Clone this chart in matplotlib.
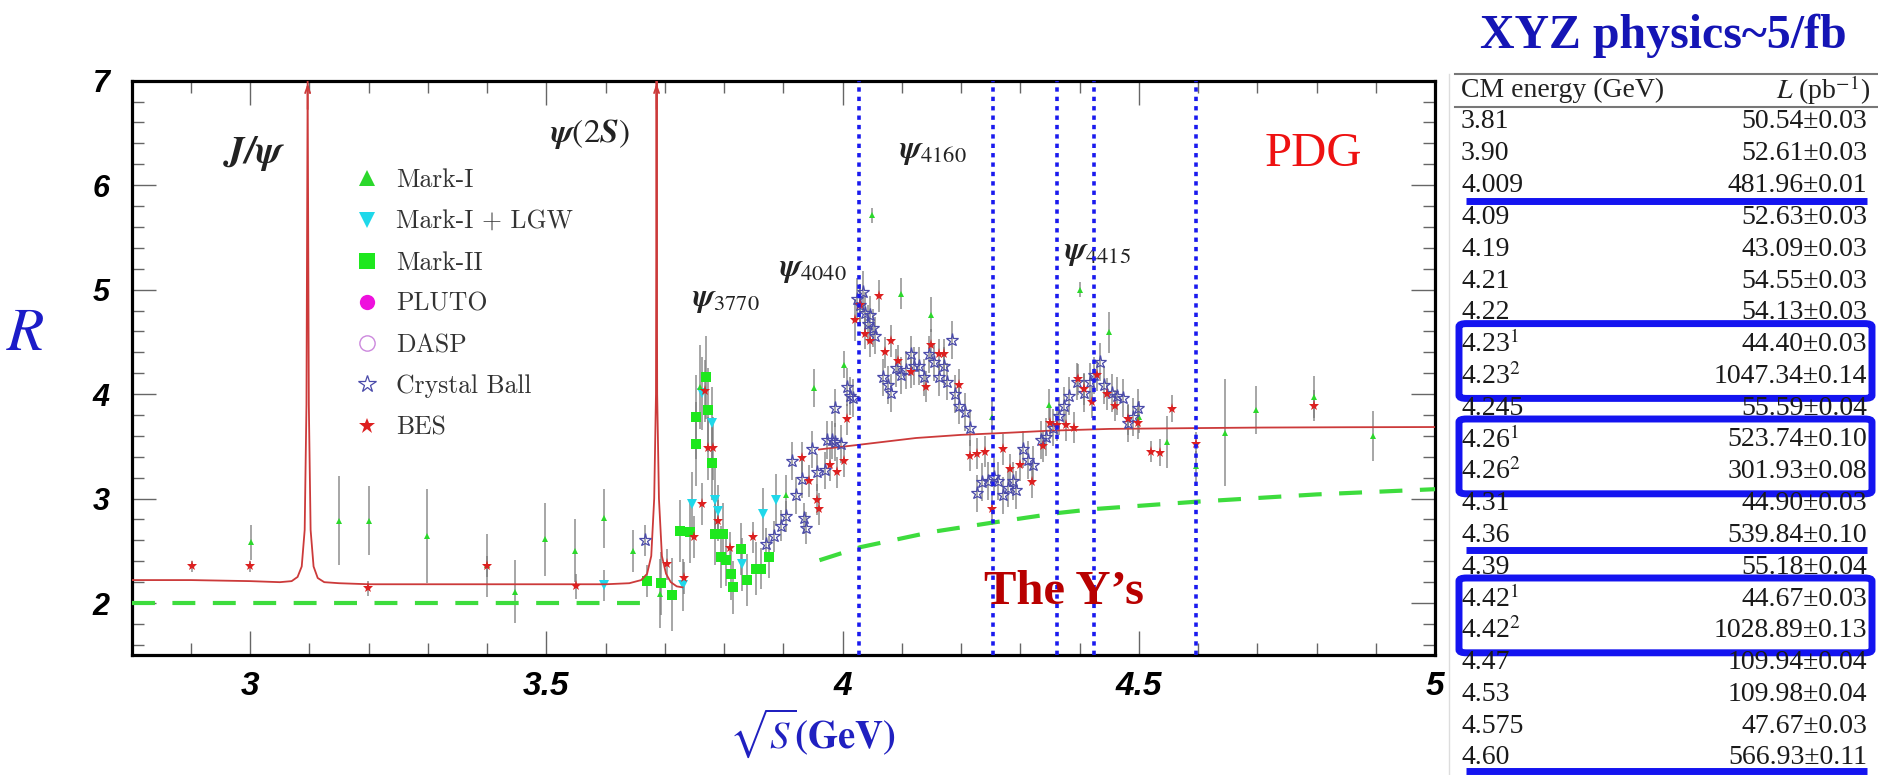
import matplotlib
matplotlib.use("Agg")
import matplotlib.pyplot as plt
from matplotlib.lines import Line2D
from matplotlib.patches import FancyBboxPatch
from matplotlib.ticker import MultipleLocator

plt.rcParams['mathtext.fontset'] = 'stix'

# ---- R measurements: (sqrt(s) [GeV], R, error) ----
mark1 = [(3.001, 2.58, 0.17), (3.150, 2.79, 0.43), (3.200, 2.79, 0.33), (3.299, 2.64, 0.45),
         (3.399, 2.36, 0.30), (3.447, 2.11, 0.30), (3.498, 2.61, 0.35), (3.549, 2.50, 0.30),
         (3.598, 2.81, 0.28), (3.647, 2.50, 0.20), (3.691, 2.09, 0.33), (3.759, 4.07, 0.40),
         (3.905, 3.03, 0.20), (3.952, 4.06, 0.18), (4.002, 4.28, 0.13), (4.049, 5.71, 0.07),
         (4.098, 4.96, 0.15), (4.150, 4.76, 0.17), (4.252, 3.78, 0.15), (4.348, 3.90, 0.15),
         (4.400, 5.00, 0.07), (4.449, 4.59, 0.20), (4.501, 3.78, 0.15), (4.547, 3.54, 0.25),
         (4.596, 3.31, 0.15), (4.646, 3.63, 0.51), (4.697, 3.85, 0.23), (4.796, 3.97, 0.20),
         (4.896, 3.60, 0.24)]

mark1_lgw = [(3.598, 2.17, 0.15), (3.730, 2.17, 0.25), (3.745, 2.95, 0.30), (3.763, 4.01, 0.35),
             (3.780, 3.72, 0.35), (3.785, 2.99, 0.30), (3.789, 2.88, 0.25), (3.830, 2.37, 0.25),
             (3.866, 2.85, 0.25), (3.888, 2.99, 0.25)]

mark2 = [(3.670, 2.21, 0.15), (3.694, 2.19, 0.30), (3.712, 2.08, 0.35), (3.726, 2.69, 0.30),
         (3.742, 2.68, 0.30), (3.753, 3.78, 0.40), (3.753, 3.52, 0.40), (3.770, 4.16, 0.40),
         (3.773, 3.85, 0.40), (3.779, 3.34, 0.35), (3.785, 2.66, 0.30), (3.794, 2.44, 0.30),
         (3.798, 2.66, 0.30), (3.804, 2.41, 0.25), (3.815, 2.15, 0.25), (3.812, 2.28, 0.25),
         (3.828, 2.52, 0.25), (3.839, 2.22, 0.25), (3.853, 2.33, 0.25), (3.862, 2.33, 0.20),
         (3.875, 2.44, 0.20)]

crystal_ball = [(3.667, 2.60, 0.15), (3.871, 2.57, 0.15), (3.884, 2.64, 0.15), (3.896, 2.74, 0.15),
                (3.905, 2.83, 0.15), (3.914, 3.36, 0.18), (3.922, 3.03, 0.18), (3.931, 3.19, 0.18),
                (3.935, 2.81, 0.15), (3.939, 2.72, 0.15), (3.948, 3.47, 0.18), (3.957, 3.25, 0.18),
                (3.970, 3.27, 0.18), (3.974, 3.56, 0.18), (3.982, 3.56, 0.18), (3.988, 3.54, 0.18),
                (3.988, 3.87, 0.18), (3.997, 3.52, 0.18), (4.008, 4.07, 0.18), (4.012, 3.98, 0.18),
                (4.017, 3.96, 0.18), (4.025, 4.91, 0.20), (4.030, 4.85, 0.20), (4.034, 4.98, 0.20),
                (4.038, 4.78, 0.20), (4.043, 4.67, 0.18), (4.047, 4.76, 0.18), (4.051, 4.63, 0.18),
                (4.055, 4.56, 0.18), (4.068, 4.16, 0.18), (4.077, 4.09, 0.18), (4.081, 4.01, 0.18),
                (4.090, 4.25, 0.18), (4.098, 4.18, 0.18), (4.107, 4.23, 0.18), (4.116, 4.38, 0.18),
                (4.120, 4.27, 0.18), (4.129, 4.27, 0.18), (4.137, 4.16, 0.18), (4.146, 4.38, 0.18),
                (4.154, 4.31, 0.18), (4.163, 4.16, 0.18), (4.172, 4.27, 0.18), (4.176, 4.12, 0.18),
                (4.185, 4.52, 0.18), (4.189, 4.00, 0.18), (4.197, 3.89, 0.18), (4.206, 3.83, 0.18),
                (4.215, 3.68, 0.18), (4.227, 3.05, 0.18), (4.236, 3.16, 0.18), (4.245, 3.17, 0.18),
                (4.255, 3.21, 0.18), (4.262, 3.17, 0.18), (4.270, 3.03, 0.18), (4.279, 3.10, 0.18),
                (4.288, 3.17, 0.18), (4.292, 3.08, 0.18), (4.305, 3.47, 0.18), (4.313, 3.37, 0.18),
                (4.322, 3.32, 0.18), (4.335, 3.56, 0.18), (4.344, 3.59, 0.18), (4.356, 3.68, 0.18),
                (4.365, 3.79, 0.18), (4.374, 3.89, 0.18), (4.382, 3.98, 0.18), (4.395, 4.12, 0.18),
                (4.408, 4.01, 0.18), (4.417, 4.12, 0.18), (4.425, 4.18, 0.18), (4.434, 4.31, 0.18),
                (4.442, 4.09, 0.18), (4.455, 4.01, 0.18), (4.464, 3.98, 0.18), (4.473, 3.96, 0.18),
                (4.481, 3.72, 0.18), (4.490, 3.78, 0.18), (4.498, 3.87, 0.18)]

bes = [(2.902, 2.35, 0.05), (3.000, 2.35, 0.05), (3.199, 2.14, 0.07), (3.399, 2.35, 0.10),
       (3.550, 2.16, 0.12), (3.703, 2.37, 0.15), (3.733, 2.24, 0.15), (3.750, 2.63, 0.20),
       (3.763, 2.95, 0.20), (3.768, 4.03, 0.30), (3.772, 3.48, 0.30), (3.781, 3.48, 0.30),
       (3.789, 2.79, 0.20), (3.810, 2.53, 0.15), (3.849, 2.63, 0.15), (3.931, 3.39, 0.15),
       (3.944, 3.17, 0.15), (3.957, 2.99, 0.15), (3.961, 2.90, 0.15), (3.978, 3.32, 0.15),
       (3.991, 3.25, 0.15), (4.002, 3.36, 0.15), (4.008, 3.76, 0.15), (4.021, 4.71, 0.20),
       (4.030, 4.85, 0.20), (4.037, 4.58, 0.15), (4.047, 4.51, 0.15), (4.062, 4.94, 0.15),
       (4.071, 4.40, 0.15), (4.081, 4.51, 0.15), (4.094, 4.32, 0.15), (4.116, 4.21, 0.15),
       (4.140, 4.07, 0.15), (4.150, 4.47, 0.15), (4.163, 4.38, 0.15), (4.172, 4.38, 0.15),
       (4.197, 4.09, 0.15), (4.215, 3.41, 0.15), (4.227, 3.43, 0.15), (4.240, 3.45, 0.15),
       (4.252, 2.90, 0.15), (4.270, 3.47, 0.15), (4.283, 3.28, 0.15), (4.300, 3.32, 0.15),
       (4.320, 3.16, 0.15), (4.339, 3.50, 0.15), (4.350, 3.72, 0.15), (4.362, 3.70, 0.15),
       (4.377, 3.70, 0.15), (4.390, 3.68, 0.15), (4.398, 4.14, 0.15), (4.408, 4.05, 0.15),
       (4.421, 3.92, 0.15), (4.430, 4.18, 0.15), (4.447, 4.00, 0.15), (4.460, 3.89, 0.15),
       (4.481, 3.76, 0.15), (4.498, 3.72, 0.15), (4.520, 3.45, 0.10), (4.536, 3.44, 0.13),
       (4.556, 3.86, 0.13), (4.596, 3.52, 0.12), (4.796, 3.89, 0.15)]

# ---- theory curves ----
red1_x = [2.80, 2.90, 3.00, 3.05, 3.070, 3.080, 3.087, 3.092, 3.095, 3.097, 3.099, 3.102,
          3.107, 3.114, 3.125, 3.15, 3.20, 3.30, 3.40, 3.50, 3.60, 3.640, 3.660, 3.670,
          3.677, 3.682, 3.685, 3.686, 3.687, 3.690, 3.695, 3.702, 3.710, 3.720, 3.730]
red1_y = [2.22, 2.22, 2.21, 2.20, 2.21, 2.25, 2.35, 2.70, 3.90, 7.00, 3.90, 2.70,
          2.35, 2.24, 2.20, 2.19, 2.18, 2.18, 2.18, 2.18, 2.18, 2.19, 2.22, 2.28,
          2.45, 3.00, 4.00, 7.00, 4.00, 3.00, 2.45, 2.28, 2.20, 2.16, 2.15]
red2_x = [3.96, 4.02, 4.124, 4.20, 4.279, 4.35, 4.451, 4.60, 4.709, 4.85, 5.00]
red2_y = [3.47, 3.51, 3.58, 3.61, 3.63, 3.65, 3.667, 3.675, 3.68, 3.683, 3.685]

green1_x = [2.80, 3.665]
green1_y = [2.00, 2.00]
green2_x = [3.961, 4.03, 4.15, 4.253, 4.365, 4.425, 4.597, 4.80, 5.00]
green2_y = [2.41, 2.535, 2.68, 2.77, 2.863, 2.90, 2.97, 3.04, 3.09]

scan_lines = [4.028, 4.254, 4.362, 4.424, 4.597]

# ---- BESIII XYZ data sets ----
cm_energy = ['3.81', '3.90', '4.009', '4.09', '4.19', '4.21', '4.22',
             '4.23$^{1}$', '4.23$^{2}$', '4.245', '4.26$^{1}$', '4.26$^{2}$', '4.31', '4.36',
             '4.39', '4.42$^{1}$', '4.42$^{2}$', '4.47', '4.53', '4.575', '4.60']
lumi = ['50.54±0.03', '52.61±0.03', '481.96±0.01', '52.63±0.03', '43.09±0.03', '54.55±0.03',
        '54.13±0.03', '44.40±0.03', '1047.34±0.14', '55.59±0.04', '523.74±0.10', '301.93±0.08',
        '44.90±0.03', '539.84±0.10', '55.18±0.04', '44.67±0.03', '1028.89±0.13', '109.94±0.04',
        '109.98±0.04', '47.67±0.03', '566.93±0.11']
boxed_rows = [(7, 8), (10, 11), (15, 16)]
underlined_rows = [2, 13, 20]

W, H = 1878, 775
fig = plt.figure(figsize=(W / 100, H / 100), dpi=100)
ax = fig.add_axes([131.7 / W, 1 - 655.3 / H, (1435 - 131.7) / W, (655.3 - 80.7) / H])

err_color = '#7a7a7a'
for data in (mark1, mark1_lgw, mark2, crystal_ball, bes):
    xs, ys, es = zip(*data)
    ax.errorbar(xs, ys, yerr=es, fmt='none', ecolor=err_color, elinewidth=1.1,
                capsize=0, alpha=0.85, zorder=2)

def unpack(data):
    xs, ys, _ = zip(*data)
    return xs, ys

x, y = unpack(mark2)
ax.plot(x, y, 's', color='#1ee81e', ms=7, mew=0, zorder=3)
x, y = unpack(mark1_lgw)
ax.plot(x, y, 'v', color='#1fd8ea', ms=6.5, mew=0, zorder=3)
x, y = unpack(mark1)
ax.plot(x, y, '^', color='#2bd82b', ms=4.5, mew=0, zorder=4)
x, y = unpack(crystal_ball)
ax.plot(x, y, '*', mfc='none', mec='#4a4aaa', ms=9.5, mew=0.9, zorder=4)
x, y = unpack(bes)
ax.plot(x, y, '*', color='#dd2020', ms=8, mew=0, zorder=5)

red = '#cc3a3a'
ax.plot(red1_x, red1_y, color=red, lw=1.3, zorder=3)
ax.plot(red2_x, red2_y, color=red, lw=1.3, zorder=3)
top = max(red1_y)
for xp, yp in zip(red1_x, red1_y):
    if yp == top:
        ax.annotate('', xy=(xp, yp), xytext=(xp, yp - 0.3),
                    arrowprops=dict(arrowstyle='->,head_length=0.5,head_width=0.18',
                                    color=red, lw=1.3), zorder=3)

green = '#3ddc3d'
ax.plot(green1_x, green1_y, color=green, lw=3, ls=(0, (5.5, 4.2)), zorder=3)
ax.plot(green2_x, green2_y, color=green, lw=3, ls=(0, (5.5, 4.2)), zorder=3)

for xv in scan_lines:
    ax.axvline(xv, color='#1a1aee', lw=2.6, ls=(0, (1.2, 1.4)), zorder=6)

ax.set_xlim(2.8, 5.0)
ax.set_ylim(1.5, 7.0)
ax.set_xticks([3, 3.5, 4, 4.5, 5])
ax.set_xticklabels(['3', '3.5', '4', '4.5', '5'])
ax.set_yticks([2, 3, 4, 5, 6, 7])
ax.set_yticklabels(['2', '3', '4', '5', '6', '7'])
ax.xaxis.set_minor_locator(MultipleLocator(0.1))
ax.yaxis.set_minor_locator(MultipleLocator(0.2))
ax.tick_params(which='both', direction='in', top=True, right=True, color='#666666', width=1.0)
ax.tick_params(which='major', length=17)
ax.tick_params(which='minor', length=8.5)
ax.tick_params(axis='x', pad=11)
ax.tick_params(axis='y', pad=16)
for lab in ax.get_xticklabels():
    lab.set_fontproperties(dict(family='Liberation Sans', weight='bold', style='italic', size=24))
for lab in ax.get_yticklabels():
    lab.set_fontproperties(dict(family='Liberation Sans', weight='bold', style='italic', size=22))
for sp in ax.spines.values():
    sp.set_linewidth(2.3)

# resonance labels
ax.text(3.007, 6.30, r'$\mathbfit{J/\psi}$', fontsize=28, ha='center', va='center', color='#222222')
ax.text(3.574, 6.49, r'$\mathbfit{\psi}(2\mathbfit{S})$', fontsize=24, ha='center', va='center', color='#222222')
ax.text(3.746, 4.91, r'$\mathbfit{\psi}_{3770}$', fontsize=23, ha='left', va='center', color='#222222')
ax.text(3.892, 5.19, r'$\mathbfit{\psi}_{4040}$', fontsize=23, ha='left', va='center', color='#222222')
ax.text(4.096, 6.32, r'$\mathbfit{\psi}_{4160}$', fontsize=23, ha='left', va='center', color='#222222')
ax.text(4.374, 5.36, r'$\mathbfit{\psi}_{4415}$', fontsize=23, ha='left', va='center', color='#222222')
ax.text(4.713, 6.30, 'PDG', fontsize=35, family='Liberation Serif', color='#ee1111',
        ha='left', va='center')
ax.text(4.374, 2.11, 'The Y’s', fontsize=35, family='Liberation Serif', weight='bold',
        color='#b80000', ha='center', va='center', zorder=7)

handles = [
    Line2D([], [], ls='none', marker='^', color='#2bd82b', ms=12, mew=0),
    Line2D([], [], ls='none', marker='v', color='#1fd8ea', ms=12, mew=0),
    Line2D([], [], ls='none', marker='s', color='#1ee81e', ms=11, mew=0),
    Line2D([], [], ls='none', marker='o', color='#ee11dd', ms=11, mew=0),
    Line2D([], [], ls='none', marker='o', mfc='none', mec='#cc88dd', ms=11, mew=1.0),
    Line2D([], [], ls='none', marker='*', mfc='none', mec='#4a4aaa', ms=13, mew=0.9),
    Line2D([], [], ls='none', marker='*', color='#dd2020', ms=12, mew=0),
]
names = ['Mark-I', 'Mark-I + LGW', 'Mark-II', 'PLUTO', 'DASP', 'Crystal Ball', 'BES']
ax.legend(handles, names, loc='upper left', bbox_to_anchor=(0.170, 0.847), frameon=False,
          prop=dict(family='cmr10', size=18.5), handlelength=1.05, handletextpad=0.62,
          labelspacing=0.68, borderpad=0, borderaxespad=0, labelcolor='#333333')

# axis titles
fig.text(25 / W, 1 - 333 / H, r'$R$', fontsize=44, color='#1c1cc8', ha='center', va='center')
fig.text(812 / W, 1 - 733 / H, r'$\sqrt{S}\mathbf{(GeV)}$', fontsize=28, color='#2020c0',
         ha='center', va='center')
fig.text(1663 / W, 1 - 36 / H, 'XYZ physics~5/fb', fontsize=34.5, family='Liberation Serif',
         weight='bold', color='#1515b5', ha='center', va='center')

# luminosity table
tx0, tx1 = 1461, 1867
row0, drow = 122, 31.8
fig.add_artist(Line2D([1455 / W, 1 - 1e-4], [1 - 74 / H] * 2, color='#777777', lw=1.5))
fig.add_artist(Line2D([1455 / W, 1 - 1e-4], [1 - 107 / H] * 2, color='#777777', lw=1.5))
fig.add_artist(Line2D([1449 / W] * 2, [1 - 74 / H, 0], color='#dddddd', lw=1.0))
fig.text(tx0 / W, 1 - 90 / H, 'CM energy (GeV)', fontsize=20, family='Liberation Serif',
         color='#222222', ha='left', va='center')
fig.text(1870 / W, 1 - 90 / H, r'$L$ (pb$^{-1}$)', fontsize=20, family='Liberation Serif',
         color='#222222', ha='right', va='center')
for i, (e, l) in enumerate(zip(cm_energy, lumi)):
    yy = 1 - (row0 + i * drow) / H
    fig.text(tx0 / W, yy, e, fontsize=20, family='Liberation Serif', color='#1a1a1a',
             ha='left', va='center')
    fig.text(tx1 / W, yy, l, fontsize=20, family='Liberation Serif', color='#1a1a1a',
             ha='right', va='center')

blue = '#1414f0'
for r0, r1 in boxed_rows:
    ytop = row0 + r0 * drow - 21
    ybot = row0 + r1 * drow + 22
    fig.add_artist(FancyBboxPatch((1459 / W, 1 - ybot / H), (1872 - 1459) / W, (ybot - ytop) / H,
                                  boxstyle='round,pad=0,rounding_size=0.004',
                                  fc='none', ec=blue, lw=5, transform=fig.transFigure))
for r in underlined_rows:
    yl = 1 - min(row0 + r * drow + 15, 771) / H
    fig.add_artist(Line2D([1466 / W, 1867 / W], [yl, yl], color=blue, lw=5, solid_capstyle='butt'))

fig.savefig('out.png', dpi=100, facecolor='white')
